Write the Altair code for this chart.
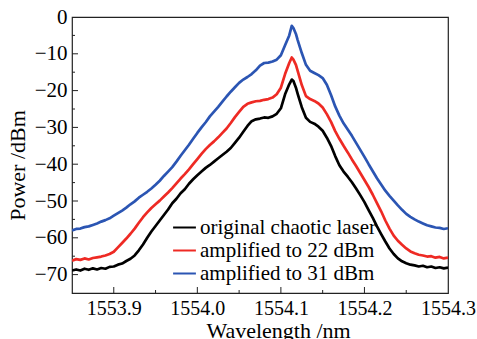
import altair as alt
import pandas as pd

wavelength = [
    1553.850, 1553.855, 1553.860, 1553.865, 1553.870, 1553.875, 1553.880, 1553.885, 1553.890, 1553.895,
    1553.900, 1553.905, 1553.910, 1553.915, 1553.920, 1553.925, 1553.930, 1553.935, 1553.940, 1553.945,
    1553.950, 1553.955, 1553.960, 1553.965, 1553.970, 1553.975, 1553.980, 1553.985, 1553.990, 1553.995,
    1554.000, 1554.005, 1554.010, 1554.015, 1554.020, 1554.025, 1554.030, 1554.035, 1554.040, 1554.045,
    1554.050, 1554.055, 1554.060, 1554.065, 1554.070, 1554.075, 1554.080, 1554.085, 1554.090, 1554.095,
    1554.100, 1554.105, 1554.110, 1554.113, 1554.115, 1554.118,
    1554.120, 1554.125, 1554.130, 1554.135, 1554.140, 1554.145, 1554.150, 1554.155, 1554.160, 1554.165,
    1554.170, 1554.175, 1554.180, 1554.185, 1554.190, 1554.195, 1554.200, 1554.205, 1554.210, 1554.215,
    1554.220, 1554.225, 1554.230, 1554.235, 1554.240, 1554.245, 1554.250, 1554.255, 1554.260, 1554.265,
    1554.270, 1554.275, 1554.280, 1554.285, 1554.290, 1554.295, 1554.300,
]

original = [
    -68.9, -68.6, -68.9, -68.4, -68.7, -68.3, -68.6, -68.2, -68.4, -67.9,
    -67.8, -67.3, -67.0, -66.3, -65.7, -64.8, -63.4, -61.8, -60.0, -58.3,
    -56.8, -55.3, -53.8, -52.3, -50.6, -49.4, -47.9, -46.8, -45.3, -44.1,
    -43.0, -42.0, -41.0, -40.2, -39.3, -38.4, -37.5, -36.6, -35.6, -34.2,
    -32.8, -31.2, -29.6, -28.3, -27.8, -27.6, -27.3, -27.4, -27.0, -26.3,
    -24.8, -21.0, -18.3, -17.0, -17.4, -19.2,
    -20.8, -24.5, -27.4, -28.5, -29.0, -29.8, -30.9, -32.8, -35.0, -37.8,
    -40.3, -42.0, -43.4, -44.9, -46.6, -48.4, -50.3, -52.5, -54.6, -56.9,
    -59.0, -61.0, -62.9, -64.4, -65.6, -66.4, -66.9, -67.3, -67.5, -67.8,
    -67.6, -68.0, -67.8, -68.2, -68.0, -68.3, -68.1,
]

amp22 = [
    -66.2, -65.8, -66.0, -65.6, -65.9, -65.5, -65.3, -65.1, -64.8, -64.4,
    -63.8, -62.6, -61.4, -60.2, -58.9, -57.5, -55.9, -54.4, -53.1, -51.9,
    -50.9, -49.9, -48.8, -47.7, -46.5, -45.2, -43.9, -42.7, -41.4, -40.0,
    -38.6, -37.2, -35.9, -34.8, -33.8, -32.7, -31.5, -30.3, -28.8, -27.2,
    -25.8, -24.4, -23.6, -23.2, -22.9, -22.8, -22.5, -22.3, -21.9, -21.0,
    -19.2, -15.5, -12.5, -11.0, -11.6, -13.0,
    -14.6, -18.5, -21.5, -22.3, -22.8, -23.5, -24.6, -26.4, -28.5, -31.0,
    -33.1, -35.0, -36.8, -38.7, -40.5, -42.4, -44.3, -46.2, -48.3, -50.6,
    -52.8, -55.3, -57.5, -59.4, -60.8, -61.9, -62.9, -63.7, -64.2, -64.6,
    -64.8, -65.1, -65.0, -65.4, -65.2, -65.6, -65.4,
]

amp31 = [
    -58.0, -57.6, -57.5, -57.1, -56.9, -56.5, -56.1, -55.6, -55.2, -54.7,
    -54.0, -53.3, -52.6, -51.8, -50.9, -50.1, -49.1, -48.3, -47.5, -46.6,
    -45.6, -44.5, -43.2, -42.0, -40.8, -39.3, -37.7, -36.2, -34.7, -33.1,
    -31.5, -30.0, -28.6, -27.0, -25.7, -24.4, -23.0, -21.6, -20.3, -19.1,
    -17.9, -17.0, -16.3, -15.5, -14.5, -13.2, -12.5, -12.4, -12.1, -11.6,
    -10.4, -7.7, -5.0, -2.4, -3.0, -4.6,
    -6.2, -9.8, -13.0, -14.6, -15.2, -15.8, -16.6, -18.4, -21.2, -24.3,
    -26.8, -28.9, -30.6, -32.3, -34.2, -36.1, -38.0, -40.0, -41.9, -43.8,
    -45.5, -47.2, -48.6, -49.9, -51.2, -52.4, -53.5, -54.3, -55.0, -55.6,
    -56.1, -56.6, -56.9, -57.2, -57.3, -57.6, -57.4,
]

series_names = ["original chaotic laser", "amplified to 22 dBm", "amplified to 31 dBm"]
series_colors = ["#000000", "#ee2a24", "#2b55b3"]

x_labels = [1553.9, 1554.0, 1554.1, 1554.2, 1554.3]
x_major = [1553.9, 1554.0, 1554.1, 1554.2]
x_minor = [1553.95, 1554.05, 1554.15, 1554.25]
y_labels = [0, -10, -20, -30, -40, -50, -60, -70]
y_major = [-10, -20, -30, -40, -50, -60, -70]
y_minor = [-5, -15, -25, -35, -45, -55, -65]

rows = []
for name, vals in zip(series_names, [original, amp22, amp31]):
    for w, p in zip(wavelength, vals):
        rows.append({"wavelength": w, "power": p, "series": name})
df = pd.DataFrame(rows)

FONT = "Liberation Serif"
FRAME = "#222222"
W, H = 376, 276

x_scale = alt.Scale(domain=[1553.85, 1554.3], nice=False, zero=False)
y_scale = alt.Scale(domain=[-75, 0], nice=False, zero=False)

x_axis = alt.Axis(values=x_labels, format=".1f", title="Wavelength /nm",
                  grid=False, domain=False, ticks=False,
                  labelFont=FONT, labelFontSize=20, labelColor="black",
                  labelPadding=5, labelFlush=False, labelOverlap=False,
                  titleFont=FONT, titleFontSize=22, titleFontWeight="normal",
                  titleColor="black",
                  titleX=206, titleY=44, titleBaseline="alphabetic", titleAlign="center")
y_axis = alt.Axis(values=y_labels, format="d", title="Power /dBm",
                  grid=False, domain=False, ticks=False,
                  labelFont=FONT, labelFontSize=21, labelColor="black",
                  labelPadding=5, labelFlush=False, labelOverlap=False,
                  titleFont=FONT, titleFontSize=22, titleFontWeight="normal",
                  titleColor="black",
                  titleX=-55, titleY=148, titleAngle=270,
                  titleBaseline="middle", titleAlign="center")

lines = alt.Chart(df).mark_line(strokeWidth=2.7, clip=True, strokeJoin="round").encode(
    x=alt.X("wavelength:Q", scale=x_scale, axis=x_axis, title="Wavelength /nm"),
    y=alt.Y("power:Q", scale=y_scale, axis=y_axis, title="Power /dBm"),
    color=alt.Color("series:N", sort=series_names,
                    scale=alt.Scale(domain=series_names, range=series_colors),
                    legend=alt.Legend(title=None, orient="none", legendX=100, legendY=198,
                                      symbolType="stroke", symbolSize=520, symbolStrokeWidth=2,
                                      labelFont=FONT, labelFontSize=21, labelColor="black",
                                      labelOffset=3, rowPadding=0, padding=0, labelLimit=400)),
)

def xticks(vals, length):
    return alt.Chart(pd.DataFrame({"wavelength": vals})).mark_rule(color=FRAME, strokeWidth=1).encode(
        x=alt.X("wavelength:Q", scale=x_scale, axis=x_axis, title="Wavelength /nm"),
        y=alt.value(H), y2=alt.value(H - length),
    )

def yticks(vals, length):
    return alt.Chart(pd.DataFrame({"power": vals})).mark_rule(color=FRAME, strokeWidth=1).encode(
        y=alt.Y("power:Q", scale=y_scale, axis=y_axis, title="Power /dBm"),
        x=alt.value(0), x2=alt.value(length),
    )

chart = alt.layer(
    lines,
    xticks(x_major, 6), xticks(x_minor, 3),
    yticks(y_major, 6), yticks(y_minor, 3),
).properties(
    width=W, height=H,
    autosize=alt.AutoSizeParams(type="none"),
    padding={"left": 72, "top": 17, "right": 29, "bottom": 46},
).configure_view(
    stroke=FRAME, strokeWidth=1.2,
).configure_axis(
    labelFont=FONT, titleFont=FONT,
).configure_legend(
    labelFont=FONT,
)

chart.save("out.html", embed_options={"renderer": "svg", "actions": False})
